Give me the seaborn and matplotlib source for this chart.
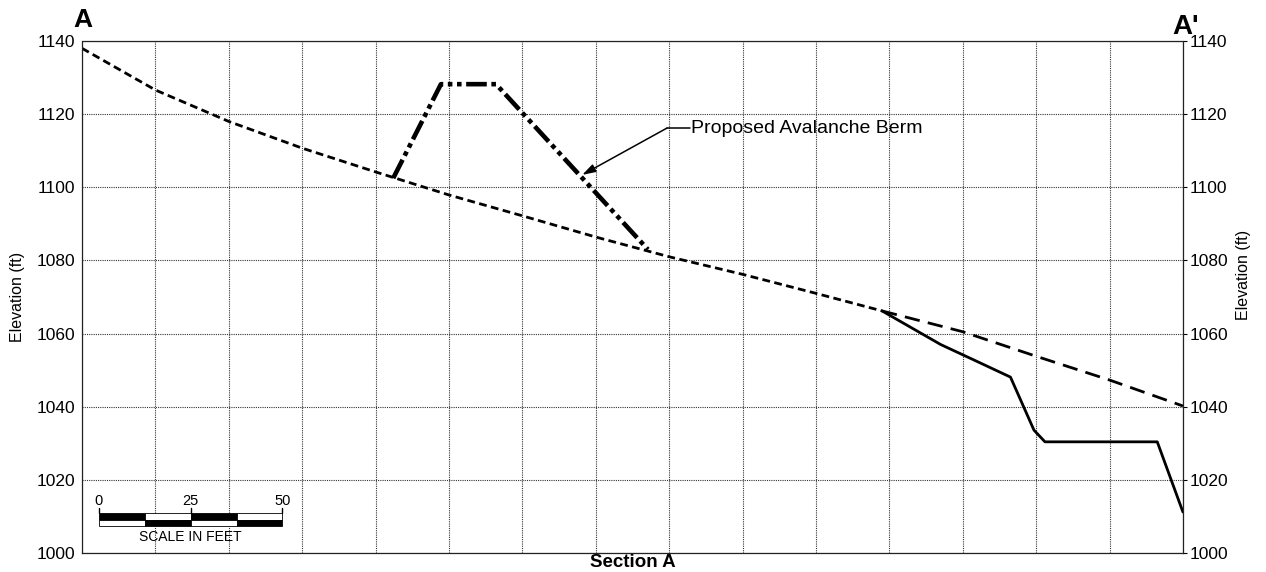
import matplotlib
matplotlib.use("Agg")
import matplotlib.pyplot as plt
import seaborn as sns
import pandas as pd
from matplotlib.patches import Rectangle

# existing ground (short dashes), left part up to the grade break
ground_x = [0, 20, 40, 60, 80, 100, 120, 140, 160, 180, 200, 218]
ground_y = [1138, 1126.6, 1118, 1110.7, 1104.2, 1097.9, 1092.2, 1086.4, 1081, 1076.2, 1071, 1066.2]
# original ground beyond the break (long dashes)
orig_x = [218, 240, 260, 280, 300]
orig_y = [1066.2, 1060.5, 1053.8, 1047.3, 1040.2]
# current grade (solid)
grade_x = [218, 234, 243, 253, 259.4, 262.4, 293, 300]
grade_y = [1066.2, 1057, 1052.8, 1048.1, 1033.6, 1030.4, 1030.4, 1011.2]
# proposed avalanche berm
berm_x = [84.8, 97.8, 112.8, 154.2]
berm_y = [1102.5, 1128.2, 1128.2, 1083]

x_ticks = list(range(0, 301, 20))
y_ticks = list(range(1000, 1141, 20))

sns.set_style("white")
plt.rcParams['font.family'] = ['Liberation Sans', 'DejaVu Sans']
plt.rcParams['text.color'] = 'black'
plt.rcParams['axes.labelcolor'] = 'black'
plt.rcParams['ytick.color'] = 'black'

fig = plt.figure(figsize=(12.66, 5.72), dpi=100)
ax = fig.add_axes([0.0648, 0.0332, 0.8696, 0.8951])

ground = pd.DataFrame({'x': ground_x, 'y': ground_y})
orig = pd.DataFrame({'x': orig_x, 'y': orig_y})
grade = pd.DataFrame({'x': grade_x, 'y': grade_y})
berm = pd.DataFrame({'x': berm_x, 'y': berm_y})

sns.lineplot(data=ground, x='x', y='y', sort=False, color='black', lw=2.0,
             linestyle=(0, (2.8, 1.6)), ax=ax)
sns.lineplot(data=orig, x='x', y='y', sort=False, color='black', lw=2.0,
             linestyle=(0, (5.5, 3)), ax=ax)
sns.lineplot(data=grade, x='x', y='y', sort=False, color='black', lw=2.0, ax=ax)
sns.lineplot(data=berm, x='x', y='y', sort=False, color='black', lw=3.3,
             linestyle=(0, (4.5, 1, 1, 1, 1, 1)), ax=ax)

ax.set_xlim(0, 300)
ax.set_ylim(1000, 1140)
ax.set_xticks(x_ticks)
ax.set_yticks(y_ticks)
ax.set_xticklabels([])
ax.grid(True, color='#333333', lw=0.8, linestyle=(0, (1, 1)))
for s in ax.spines.values():
    s.set_linestyle((0, (1, 1)))
    s.set_linewidth(0.9)
    s.set_color('#222222')
ax.tick_params(axis='x', length=0)
ax.tick_params(axis='y', length=3, labelsize=12.5, pad=2, right=True, labelright=True)
ax.set_xlabel('')
ax.set_ylabel('Elevation (ft)', fontsize=11.5, labelpad=8)

# bottom axis title, kept inside the canvas
fig.text(0.4995, 0.002, 'Section A', fontsize=13.5, fontweight='bold', ha='center', va='bottom')

# right side axis label
fig.text(0.9826, 0.52, 'Elevation (ft)', rotation=90, fontsize=11.5, ha='center', va='center')

# section end labels
fig.text(0.0656, 0.965, 'A', fontsize=19, fontweight='bold', ha='center', va='center')
fig.text(0.9365, 0.952, "A'", fontsize=20, fontweight='bold', ha='center', va='center')

# berm callout
ax.text(166.0, 1116.2, 'Proposed Avalanche Berm', fontsize=14, ha='left', va='center')
ax.plot([159.4, 165.6], [1116.2, 1116.2], color='black', lw=1.1)
ax.annotate('', xy=(136.3, 1103.4), xytext=(159.4, 1116.2),
            arrowprops=dict(arrowstyle='-|>,head_length=0.8,head_width=0.25',
                            color='black', lw=1.1, shrinkA=0, shrinkB=0))

# scale bar
x0 = 4.6
seg = 12.5
for i in range(4):
    top_black = (i % 2 == 0)
    ax.add_patch(Rectangle((x0 + i * seg, 1009.1), seg, 1.8,
                           facecolor='black' if top_black else 'white',
                           edgecolor='black', lw=0.6, zorder=5))
    ax.add_patch(Rectangle((x0 + i * seg, 1007.4), seg, 1.7,
                           facecolor='white' if top_black else 'black',
                           edgecolor='black', lw=0.6, zorder=5))
for k, lab in enumerate(['0', '25', '50']):
    xx = x0 + k * 25
    ax.plot([xx, xx], [1010.9, 1012.4], color='black', lw=1.0, zorder=5)
    ax.text(xx, 1014.2, lab, fontsize=10.5, ha='center', va='center', zorder=6)
ax.text(x0 + 25, 1004.4, 'SCALE IN FEET', fontsize=10, ha='center', va='center', zorder=6)

fig.savefig('out.png', dpi=100)
